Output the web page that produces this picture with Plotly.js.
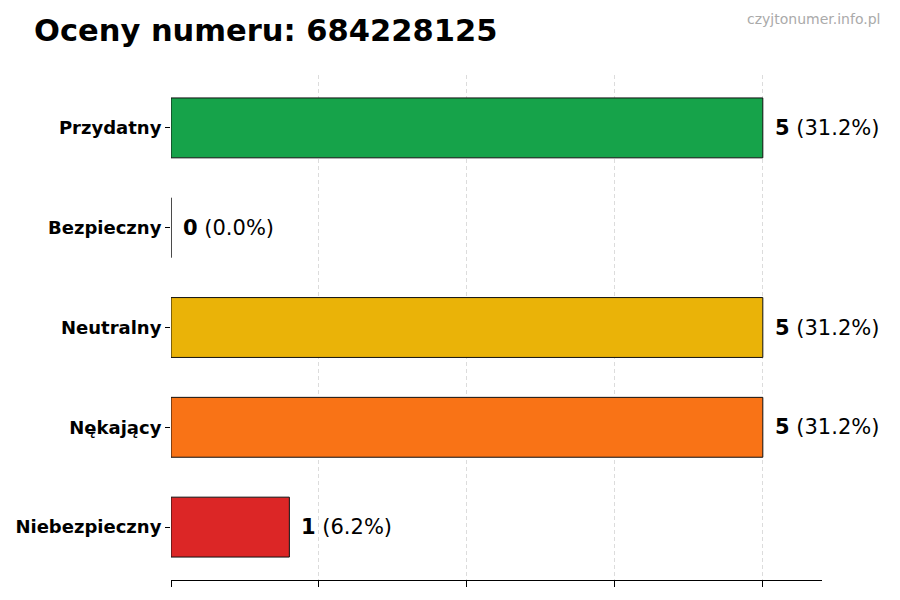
<!DOCTYPE html>
<html>
<head>
<meta charset="utf-8">
<script src="https://cdn.plot.ly/plotly-3.0.1.min.js"></script>
<style>html,body{margin:0;padding:0;background:#fff;}#chart{width:900px;height:600px;}</style>
</head>
<body>
<div id="chart"></div>
<script>
const categories = ["Przydatny", "Bezpieczny", "Neutralny", "Nękający", "Niebezpieczny"];
const counts = [5, 0, 5, 5, 1];
const percents = ["31.2%", "0.0%", "31.2%", "31.2%", "6.2%"];
const colors = ["#16a34a", "#2563eb", "#eab308", "#f97316", "#dc2626"];
const xTicks = [0, 1.25, 2.5, 3.75, 5];

const font = "DejaVu Sans, sans-serif";

const trace = {
  type: "bar",
  orientation: "h",
  y: categories,
  x: counts,
  width: 0.6,
  marker: { color: colors, line: { color: "#111", width: 1 } },
  hoverinfo: "skip"
};

const annotations = categories.map((c, i) => ({
  x: counts[i], y: c, xref: "x", yref: "y",
  text: "<b>" + counts[i] + "</b> (" + percents[i] + ")",
  showarrow: false, xanchor: "left", yanchor: "middle", xshift: 10,
  font: { family: font, size: 21, color: "#000" }
}));

annotations.push({
  text: "czyjtonumer.info.pl", xref: "paper", yref: "paper",
  x: 1.0, y: 1, xanchor: "right", yanchor: "top",
  xshift: 60, yshift: 66, showarrow: false,
  font: { family: font, size: 14, color: "#aaaaaa" }
});

const layout = {
  width: 900, height: 600,
  paper_bgcolor: "#fff", plot_bgcolor: "#fff",
  margin: { l: 171, r: 78, t: 75, b: 20 },
  title: {
    text: "<b>Oceny numeru: 684228125</b>",
    x: 34 / 900, xref: "container", xanchor: "left",
    y: 0.95, yref: "container", yanchor: "middle",
    font: { family: font, size: 30.5, color: "#000" }
  },
  showlegend: false,
  xaxis: {
    range: [0, 5.5],
    tickvals: xTicks,
    showticklabels: false,
    ticks: "outside", ticklen: 6, tickcolor: "#000", tickwidth: 1,
    showgrid: true, gridcolor: "#dcdcdc", griddash: "4px,3px", gridwidth: 1,
    showline: true, linecolor: "#000", linewidth: 1.2,
    zeroline: false, fixedrange: true
  },
  yaxis: {
    type: "category",
    categoryorder: "array", categoryarray: categories,
    range: [4.53, -0.53],
    ticks: "outside", ticklen: 5, tickcolor: "#000",
    showline: false, showgrid: false, zeroline: false,
    tickfont: { family: font, size: 18, color: "#000", weight: "bold" },
    fixedrange: true
  },
  annotations: annotations
};

Plotly.newPlot("chart", [trace], layout, { displayModeBar: false, staticPlot: true });
</script>
</body>
</html>
